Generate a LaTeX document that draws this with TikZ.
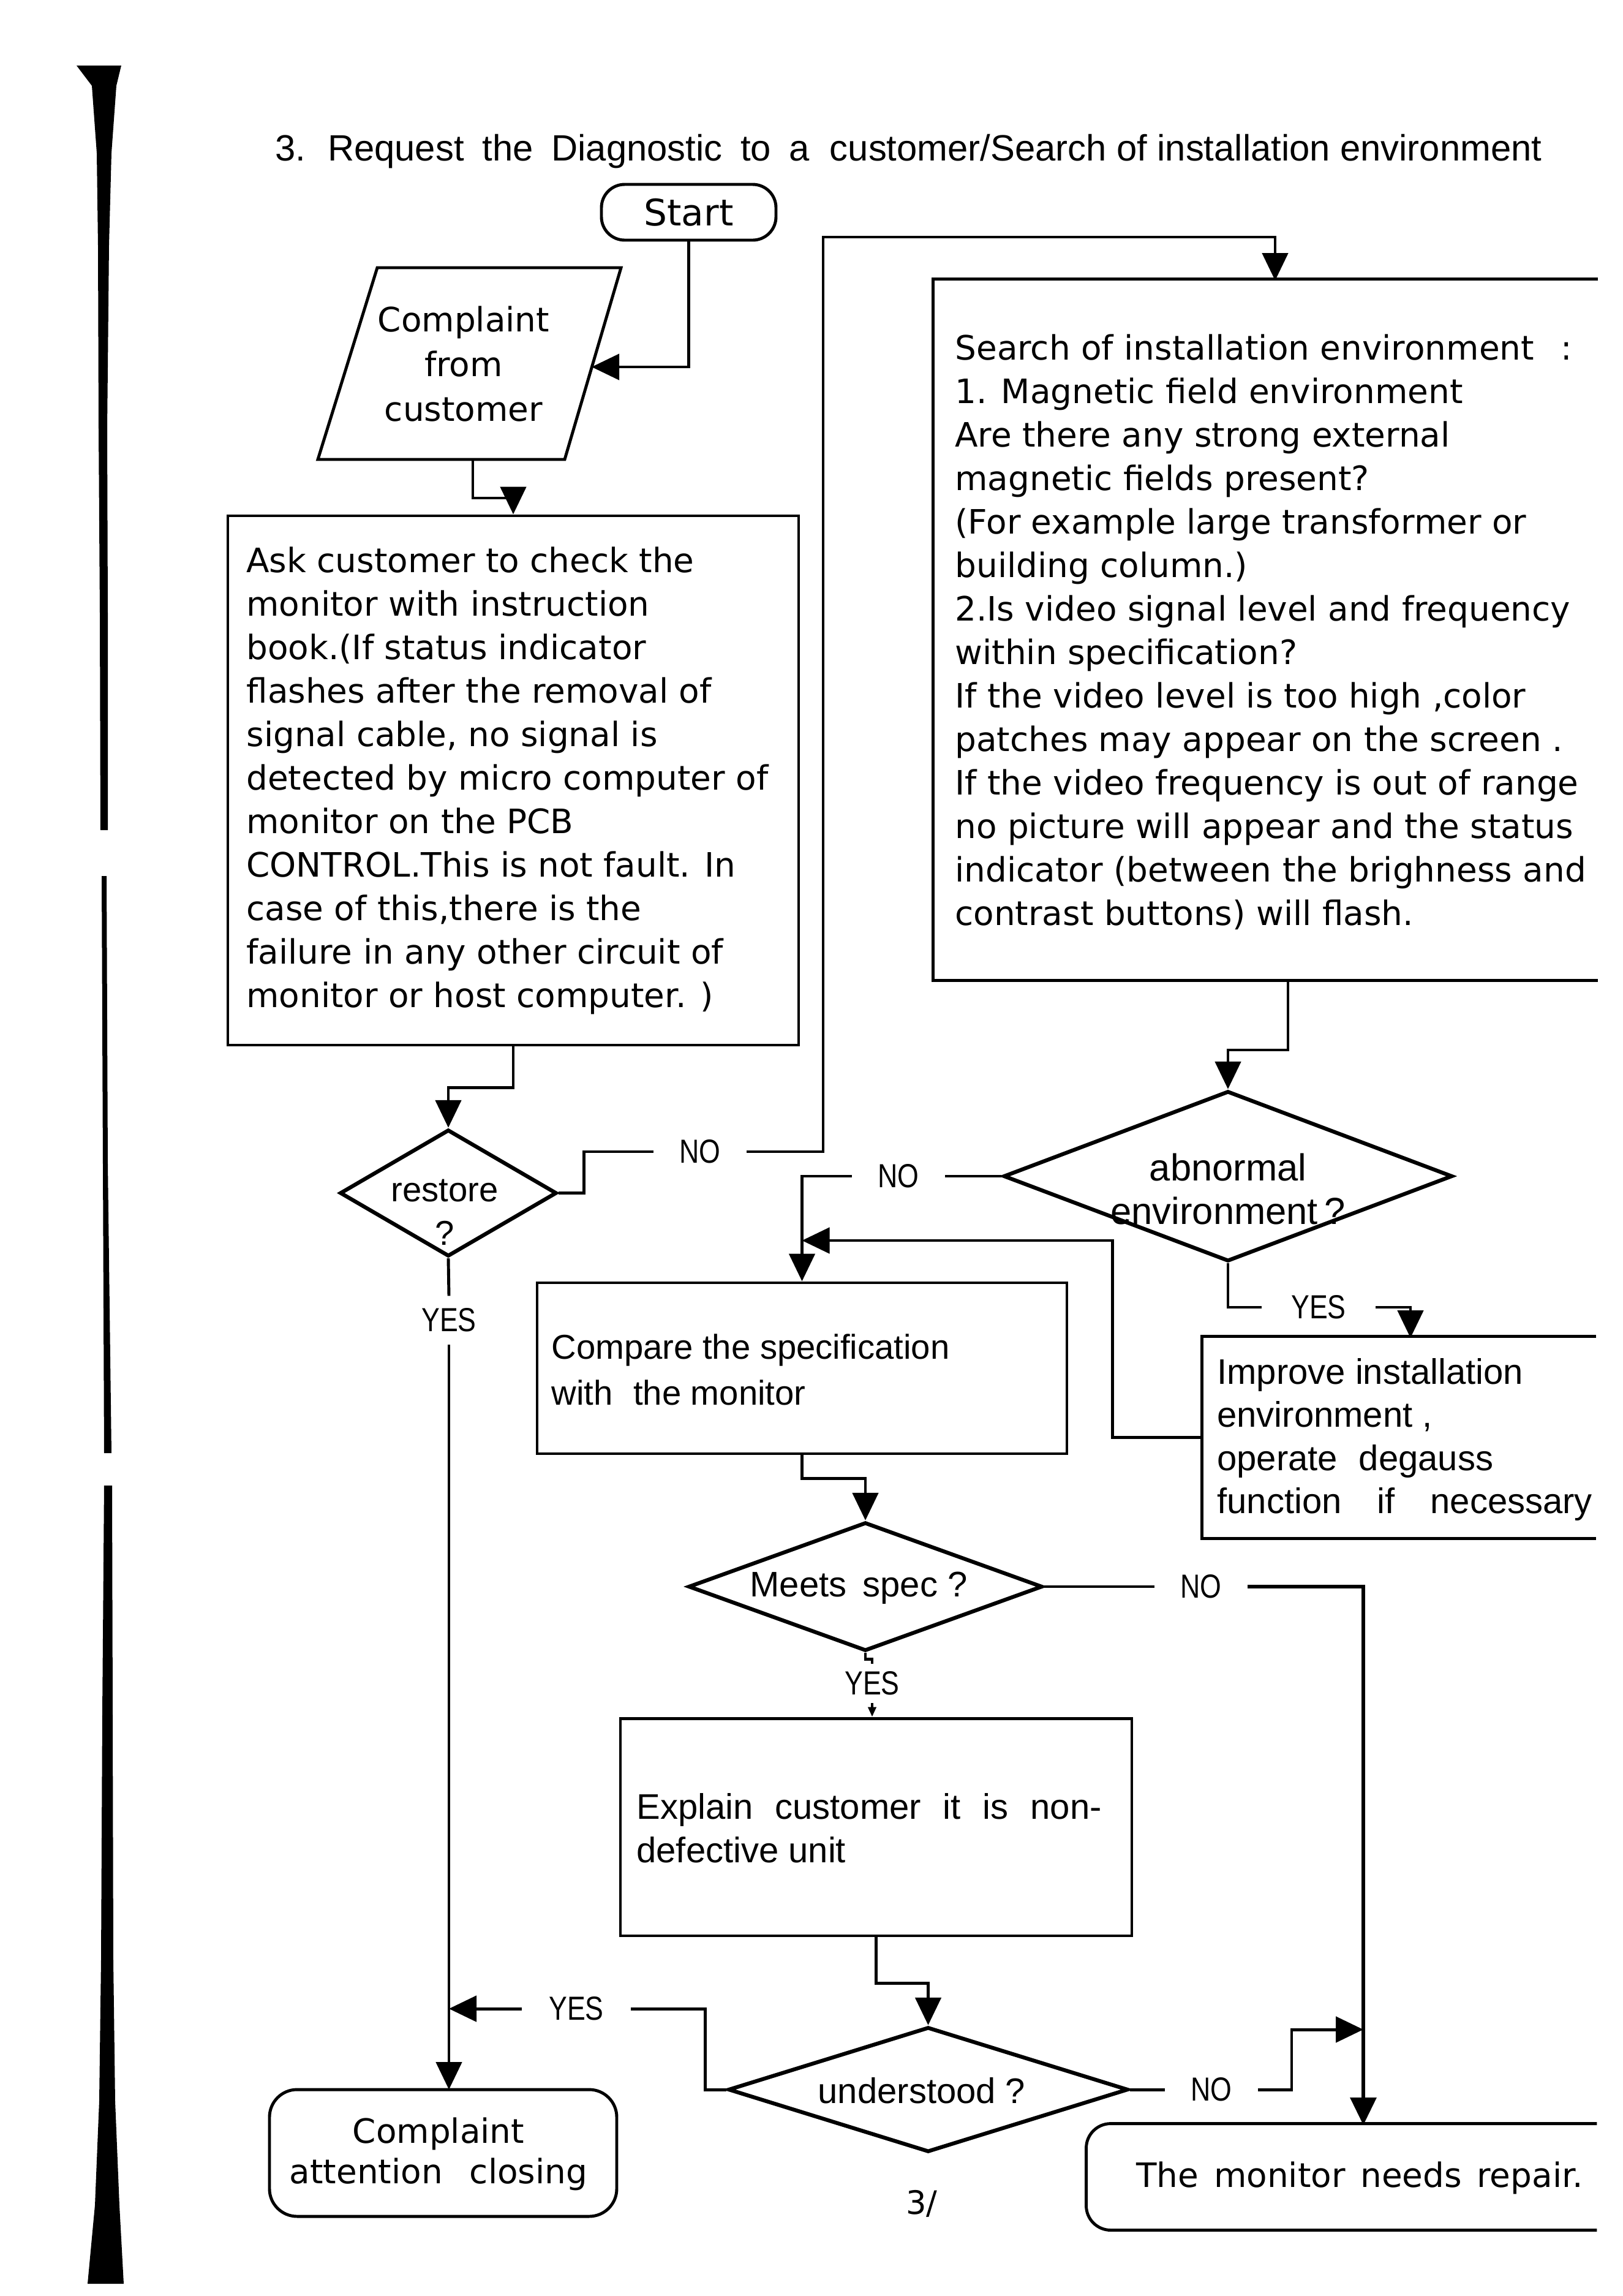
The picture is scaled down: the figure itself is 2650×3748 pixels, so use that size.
\documentclass[tikz,border=0pt]{standalone}
\usepackage{fontspec}
\newfontfamily\fntA{DejaVu Sans}
\newfontfamily\fntB{Liberation Sans}
\newfontfamily\fntC[FakeStretch=0.82]{Liberation Sans}
\usetikzlibrary{arrows.meta,shapes.geometric}
\newcommand\fsz[2]{\fontsize{#1}{#2}\selectfont}
\begin{document}
\begin{tikzpicture}[x=0.1mm,y=-0.1mm,
  line width=1.4pt,
  >={Triangle[length=4.5mm,width=4.2mm]},
  dia/.style={draw,diamond,inner sep=0pt,line width=1.8pt},
  boxr/.style={draw,rectangle,inner sep=0pt},
  frm/.style={rectangle,inner sep=0pt},
  lbl/.style={font=\fntC\fsz{15.5}{18},inner xsep=4mm,inner ysep=1.8mm},
  body/.style={font=\fntA\fsz{15.6}{20.2},align=left,inner sep=0pt,anchor=west},
  txt/.style={inner sep=0pt}
]
\fill[white] (0,0) rectangle (2650,3748);
\useasboundingbox (0,0) rectangle (2650,3748);

% scan bar at left margin
\fill[black] (125,107) -- (198,107) -- (190,140) -- (182,250) -- (178,400) -- (175,700) -- (176,1000) -- (176,1355) -- (164,1355) -- (163,1000) -- (161,700) -- (160,400) -- (158,250) -- (150,140) -- cycle;
\fill[black] (166,1430) -- (174,1430) -- (176,1900) -- (182,2372) -- (170,2372) -- (168,1900) -- cycle;
\fill[black] (170,2425) -- (183,2425) -- (184,2800) -- (185,3200) -- (188,3430) -- (195,3600) -- (202,3728) -- (143,3728) -- (155,3600) -- (162,3430) -- (165,3200) -- (167,2800) -- cycle;

% title
\node[font=\fntB\fsz{17}{20},anchor=base west,txt] (title) at (447,262) {3.\hspace{.6em}Request\hspace{.5em}the\hspace{.5em}Diagnostic\hspace{.5em}to\hspace{.5em}a\hspace{.55em}customer/Search of installation environment};

% start
\node[boxr,rounded corners=3.8mm,minimum width=28.5mm,minimum height=9.1mm,font=\fntA\fsz{17}{20}] (start) at (1124.5,346.5) {Start};

% complaint parallelogram
\coordinate (pTL) at (616,437);
\coordinate (pTR) at (1014,437);
\coordinate (pBR) at (922,750);
\coordinate (pBL) at (519,750);
\draw (pTL) -- (pTR) -- (pBR) -- (pBL) -- cycle;
\node[font=\fntA\fsz{15.6}{20.7},align=center,txt] (complaint) at (757,594) {Complaint\\from\\customer};
\coordinate (cpR) at (966,599);
\coordinate (cpB) at (772,750);

% ask box
\node[boxr,minimum width=93.2mm,minimum height=86.4mm] (ask) at (838,1274) {};
\node[body] (askT) at (400,1274) {Ask customer to check the\\monitor with instruction\\book.(If status indicator\\flashes after the removal of\\signal cable, no signal is\\detected by micro computer of\\monitor on the PCB\\CONTROL.This is not fault. In\\case of this,there is the\\failure in any other circuit of\\monitor or host computer. )};

% search box (open at right)
\node[frm,minimum width=108.1mm,minimum height=114mm] (search) at (2066.5,1028) {};
\draw (search.north east) -- (search.north west) -- (search.south west) -- (search.south east);
\node[body] (searchT) at (1557,1032) {\makebox[100.7mm][l]{Search of installation environment\hfill:}\\1. Magnetic field environment\\Are there any strong external\\magnetic fields present?\\(For example large transformer or\\building column.)\\2.Is video signal level and frequency\\within specification?\\If the video level is too high ,color\\patches may appear on the screen .\\If the video frequency is out of range\\no picture will appear and the status\\indicator (between the brighness and\\contrast buttons) will flash.};

% restore diamond
\node[dia,minimum width=35.4mm,minimum height=20.7mm] (restore) at (732,1947.5) {};
\node[font=\fntB\fsz{16}{20.2},align=center,txt] (restoreT) at (726,1979) {restore\\?};

% abnormal diamond
\node[dia,minimum width=73.3mm,minimum height=27.8mm] (abn) at (2005,1920) {};
\node[font=\fntB\fsz{17.5}{20.4},align=center,txt] (abnT) at (2005,1941) {abnormal\\environment\,?};

% compare box
\node[boxr,minimum width=86.5mm,minimum height=27.9mm] (compare) at (1309.5,2233.5) {};
\node[font=\fntB\fsz{16}{21.3},align=left,txt,anchor=west] (compareT) at (898,2236) {Compare the specification\\with\hspace{.6em}the monitor};

% improve box (open at right)
\node[frm,minimum width=63.9mm,minimum height=32.5mm] (improve) at (2284.5,2346.5) {};
\draw (improve.north east) -- (improve.north west) -- (improve.south west) -- (improve.south east);
\node[font=\fntB\fsz{16.5}{20.1},align=left,txt,anchor=west] (improveT) at (1985,2350) {Improve installation\\environment ,\\operate\hspace{.6em}degauss\\function\hspace{1em}if\hspace{1em}necessary};

% meets spec diamond
\node[dia,minimum width=57.8mm,minimum height=21mm] (meets) at (1413,2590) {};
\node[font=\fntB\fsz{16.5}{20},txt] (meetsT) at (1402,2592) {Meets\hspace{.45em}spec ?};

% explain box
\node[boxr,minimum width=83.5mm,minimum height=35.5mm] (explain) at (1430.5,2982.5) {};
\node[font=\fntB\fsz{16.5}{20.1},align=left,txt,anchor=west] (explainT) at (1037,2984) {Explain\hspace{.62em}customer\hspace{.62em}it\hspace{.62em}is\hspace{.62em}non-\\defective unit};

% understood diamond
\node[dia,minimum width=65.3mm,minimum height=20.4mm] (und) at (1515.5,3411) {};
\node[font=\fntB\fsz{16.5}{20},txt] (undT) at (1505,3413) {understood ?};

% closing
\node[boxr,rounded corners=4.5mm,minimum width=56.7mm,minimum height=20.7mm] (closing) at (723.5,3514.5) {};
\node[font=\fntA\fsz{15.6}{18.8},align=center,txt] (closingT) at (716,3516) {Complaint\\attention\hspace{.8em}closing};

% monitor needs repair (open at right)
\node[frm,minimum width=82.9mm,minimum height=16.9mm] (monitor) at (2190.5,3553.5) {};
\draw[rounded corners=4mm] (monitor.north east) -- (monitor.north west) -- (monitor.south west) -- (monitor.south east);
\node[font=\fntA\fsz{15.6}{20},txt,anchor=west] (monitorT) at (1853,3555) {The\hspace{.45em}monitor\hspace{.45em}needs\hspace{.45em}repair.};

% page number
\node[font=\fntA\fsz{15}{18},txt] (page) at (1505,3597) {3/};

% labels
\node[lbl] (no1) at (1143,1880) {NO};
\node[lbl] (no2) at (1467,1920) {NO};
\node[lbl] (yes1) at (733,2155) {YES};
\node[lbl,inner xsep=4.6mm] (yes2) at (2153,2134) {YES};
\node[lbl] (no3) at (1961,2590) {NO};
\node[lbl,inner ysep=1mm] (yes3) at (1424,2748) {YES};
\node[lbl,inner xsep=4.2mm] (yes4) at (941,3279) {YES};
\node[lbl] (no4) at (1978,3411) {NO};

% connectors
\draw[->] (start.south) |- (cpR);
\coordinate (c2) at (838,813);
\draw[->] (cpB) |- (c2) -- (ask.north);
\draw[->] (ask.south) -- ++(0,67) -| (restore.north);
\draw (restore.east) -- ++(41,0) |- (no1.west);
\coordinate (sIn) at (2082,458);
\coordinate (k1) at (1344,387);
\draw[->] (no1.east) -| (k1) -| (sIn);
\coordinate (sOut) at (2103,1598);
\draw[->] (sOut) -- ++(0,116) -| (abn.north);
\draw (abn.west) -- (no2.east);
\draw[->] (no2.west) -| (compare.north);
\coordinate (m1) at (1309.5,2025);
\draw[->] (improve.west) -- ++(-146,0) |- (m1);
\draw (abn.south) |- (yes2.west);
\coordinate (iIn) at (2303,2184);
\draw[->] (yes2.east) -| (iIn);
\draw[->] (compare.south) -- ++(0,38) -| (meets.north);
\draw (meets.east) -- (no3.west);
\coordinate (monIn) at (2226,3469);
\draw[->,line width=1.8pt] (no3.east) -| (monIn);
\draw (meets.south) -- ++(0,10) -| (yes3.north);
\draw[-{Triangle[length=1.6mm,width=1.3mm]}] (yes3.south) -- (yes3.south |- explain.north);
\draw[->] (explain.south) -- ++(0,75) -| (und.north);
\draw (und.west) -- ++(-34,0) |- (yes4.east);
\coordinate (j1) at (733,3279);
\draw[->] (yes4.west) -- (j1);
\draw (restore.south) -- (yes1.north);
\coordinate (clIn) at (733,3411);
\draw[->] (yes1.south) -- (clIn);
\draw (und.east) -- (no4.west);
\coordinate (j2) at (2226,3313);
\draw[->] (no4.east) -- ++(55,0) |- (j2);
\end{tikzpicture}
\end{document}
